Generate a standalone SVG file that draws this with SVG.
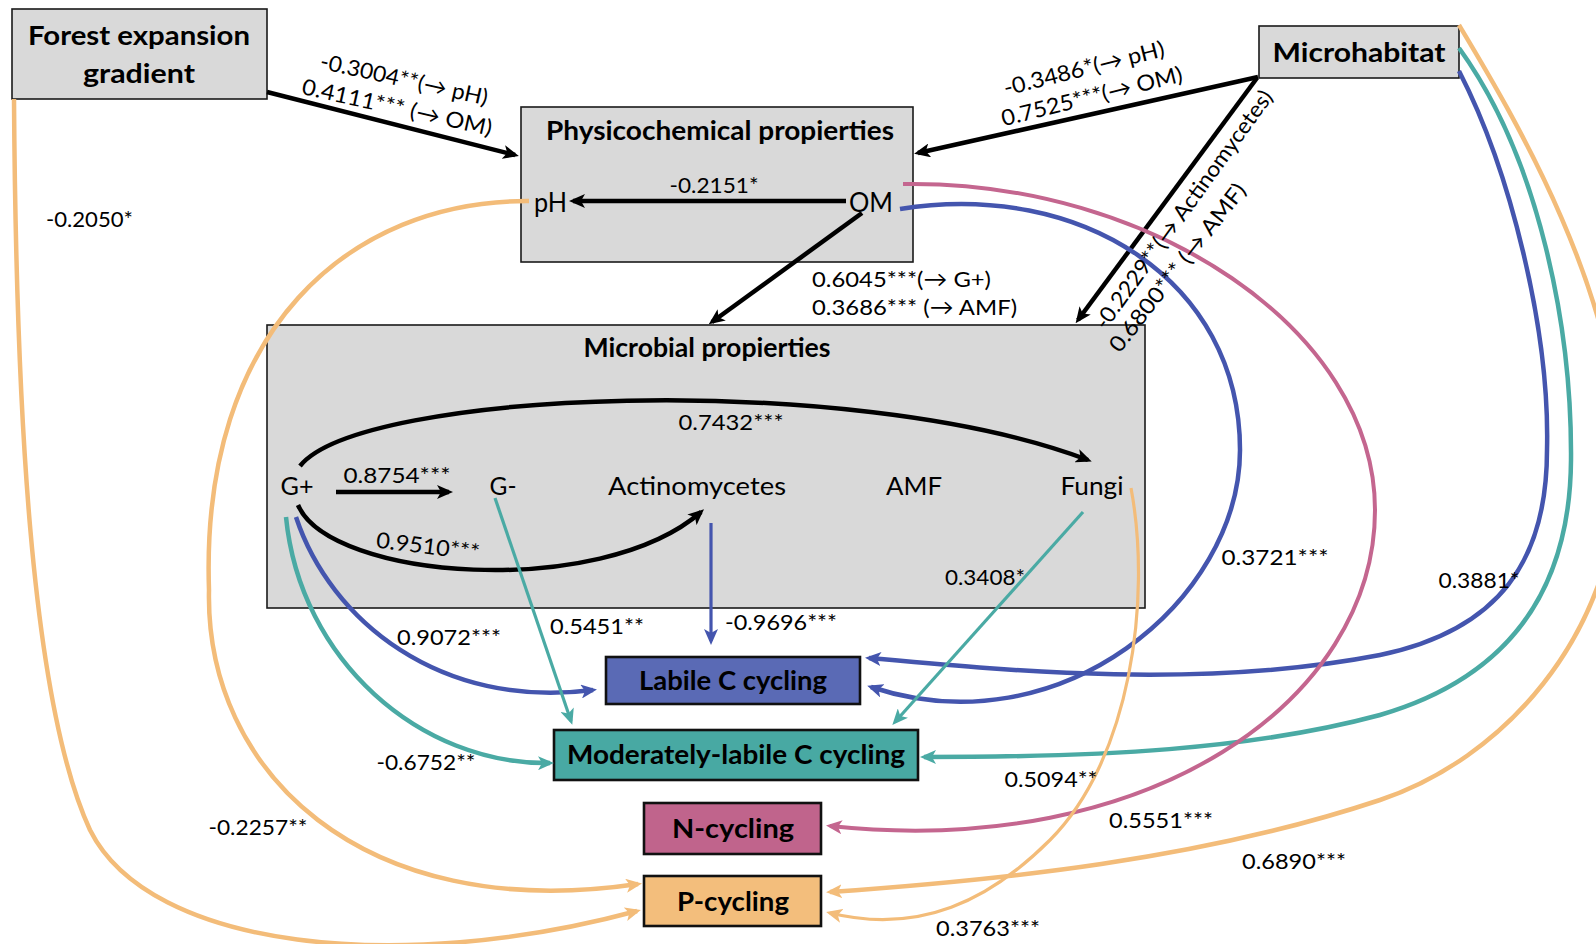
<svg xmlns="http://www.w3.org/2000/svg" width="1596" height="944" viewBox="0 0 1596 944">
<style>
text{font-family:Lato,"Liberation Sans","DejaVu Sans",sans-serif;fill:#000}
.t{font-weight:bold;font-size:27px;text-anchor:middle}
.n{font-size:25px;text-anchor:middle}
.e{font-size:22px}
.m{text-anchor:middle}
.box{fill:#d9d9d9;stroke:#1a1a1a;stroke-width:1.6}
.cb{stroke:#111;stroke-width:2.6}
.k{fill:none;stroke:#000;stroke-width:4.5}
.b{fill:none;stroke:#4455ae;stroke-width:4.5}
.g{fill:none;stroke:#4aaaa4;stroke-width:4.5}
.p{fill:none;stroke:#c4668f;stroke-width:4}
.o{fill:none;stroke:#f3bc79;stroke-width:4.5}
.thin{stroke-width:3.2}
</style>
<defs>
<marker id="ak" markerUnits="userSpaceOnUse" markerWidth="16" markerHeight="14" refX="12" refY="7" orient="auto"><path d="M0,0 L16,7 L0,14 L4,7 z" fill="#000"/></marker>
<marker id="ab" markerUnits="userSpaceOnUse" markerWidth="16" markerHeight="14" refX="12" refY="7" orient="auto"><path d="M0,0 L16,7 L0,14 L4,7 z" fill="#4455ae"/></marker>
<marker id="ag" markerUnits="userSpaceOnUse" markerWidth="16" markerHeight="14" refX="12" refY="7" orient="auto"><path d="M0,0 L16,7 L0,14 L4,7 z" fill="#4aaaa4"/></marker>
<marker id="ap" markerUnits="userSpaceOnUse" markerWidth="16" markerHeight="14" refX="12" refY="7" orient="auto"><path d="M0,0 L16,7 L0,14 L4,7 z" fill="#c4668f"/></marker>
<marker id="ao" markerUnits="userSpaceOnUse" markerWidth="16" markerHeight="14" refX="12" refY="7" orient="auto"><path d="M0,0 L16,7 L0,14 L4,7 z" fill="#f3bc79"/></marker>
</defs>
<rect width="1596" height="944" fill="#fff"/>

<g id="forest">
<rect class="box" x="12" y="9" width="255" height="90"/>
<text class="t" x="139" y="45" textLength="222" lengthAdjust="spacingAndGlyphs">Forest expansion</text>
<text class="t" x="139" y="83" textLength="112" lengthAdjust="spacingAndGlyphs">gradient</text>
</g>
<g id="microhabitat">
<rect class="box" x="1259" y="26" width="200" height="52"/>
<text class="t" x="1359" y="62" textLength="173" lengthAdjust="spacingAndGlyphs">Microhabitat</text>
</g>
<g id="physicochemical">
<rect class="box" x="521" y="107" width="392" height="155"/>
<text class="t" x="720" y="140" textLength="348" lengthAdjust="spacingAndGlyphs">Physicochemical propierties</text>
</g>
<g id="pH"><text x="534" y="212" font-size="27" textLength="33" lengthAdjust="spacingAndGlyphs">pH</text></g>
<g id="OM"><text x="849" y="212" font-size="27" textLength="44" lengthAdjust="spacingAndGlyphs">OM</text></g>
<g id="microbial">
<rect class="box" x="267" y="325" width="878" height="283"/>
<text class="t" x="707" y="357" font-size="25" textLength="247" lengthAdjust="spacingAndGlyphs">Microbial propierties</text>
</g>
<g id="Gpos"><text class="n" x="297" y="495" textLength="33" lengthAdjust="spacingAndGlyphs">G+</text></g>
<g id="Gneg"><text class="n" x="503" y="495" textLength="27" lengthAdjust="spacingAndGlyphs">G-</text></g>
<g id="actinomycetes"><text class="n" x="697" y="495" textLength="178" lengthAdjust="spacingAndGlyphs">Actinomycetes</text></g>
<g id="AMF"><text class="n" x="914" y="495" textLength="56" lengthAdjust="spacingAndGlyphs">AMF</text></g>
<g id="fungi"><text class="n" x="1092" y="495" textLength="63" lengthAdjust="spacingAndGlyphs">Fungi</text></g>
<g id="labile">
<rect class="cb" x="606" y="657" width="254" height="47" fill="#5a6ab5"/>
<text class="t" x="733" y="690" textLength="188" lengthAdjust="spacingAndGlyphs">Labile C cycling</text>
</g>
<g id="moderately">
<rect class="cb" x="554" y="730" width="364" height="50" fill="#48a9a3"/>
<text class="t" x="736" y="764" textLength="338" lengthAdjust="spacingAndGlyphs">Moderately-labile C cycling</text>
</g>
<g id="ncycling">
<rect class="cb" x="644" y="803" width="177" height="51" fill="#c0648c"/>
<text class="t" x="733" y="838" textLength="122" lengthAdjust="spacingAndGlyphs">N-cycling</text>
</g>
<g id="pcycling">
<rect class="cb" x="644" y="876" width="177" height="50" fill="#f3be7c"/>
<text class="t" x="733" y="911" textLength="112" lengthAdjust="spacingAndGlyphs">P-cycling</text>
</g>

<g id="connectors">
<path class="k" d="M267,92 L515,155" marker-end="url(#ak)"/>
<path class="k" d="M1258,77 L918,153" marker-end="url(#ak)"/>
<path class="k" d="M846,201 L573,201" marker-end="url(#ak)"/>
<path class="k" d="M862,213 L712,322" marker-end="url(#ak)"/>
<path class="k" d="M1257,78 L1078,320" marker-end="url(#ak)"/>
<path class="k" d="M336,492 L449,492" marker-end="url(#ak)"/>
<path class="k" d="M300,466 C360,390 850,370 1088,460" marker-end="url(#ak)"/>
<path class="k" d="M298,505 C330,580 600,600 701,512" marker-end="url(#ak)"/>

<path class="b" d="M296,517 C330,620 440,710 593,690" marker-end="url(#ab)"/>
<path class="b thin" d="M711,523 L711,641" marker-end="url(#ab)"/>
<path class="b" d="M900,209 C1080,180 1240,280 1240,450 C1240,600 1060,750 871,687" marker-end="url(#ab)"/>
<path class="b" d="M1459,71 C1510,170 1550,330 1547,450 C1547,560 1500,630 1380,655 C1200,690 1000,670 869,658" marker-end="url(#ab)"/>

<path class="g" d="M286,517 C300,660 420,765 550,763" marker-end="url(#ag)"/>
<path class="g thin" d="M495,498 L571,721" marker-end="url(#ag)"/>
<path class="g thin" d="M1083,512 L895,722" marker-end="url(#ag)"/>
<path class="g" d="M1459,48 C1540,160 1572,330 1571,460 C1570,600 1500,680 1380,715 C1250,750 1100,757 924,757" marker-end="url(#ag)"/>

<path class="p" d="M903,184 C1150,180 1375,330 1375,510 C1375,700 1150,860 830,826" marker-end="url(#ap)"/>

<path class="o" d="M14,99 C16,400 30,700 90,830 C150,950 400,975 637,911" marker-end="url(#ao)"/>
<path class="o" d="M529,201 C350,200 200,330 209,590 C205,770 360,925 638,884" marker-end="url(#ao)"/>
<path class="o thin" d="M1131,488 C1152,600 1130,760 1050,840 C990,900 920,935 830,913" marker-end="url(#ao)"/>
<path class="o" d="M1459,25 C1510,110 1625,300 1620,470 C1615,640 1500,760 1380,800 C1200,860 1000,880 830,892" marker-end="url(#ao)"/>
</g>

<g id="edge-labels" class="e">
<text class="m" transform="translate(404,80) rotate(12.5)" y="7" textLength="171" lengthAdjust="spacingAndGlyphs">-0.3004**(→ pH)</text>
<text class="m" transform="translate(397,108) rotate(12.5)" y="7" textLength="194" lengthAdjust="spacingAndGlyphs">0.4111*** (→ OM)</text>
<text class="m" transform="translate(1084,69) rotate(-14)" y="7" textLength="165" lengthAdjust="spacingAndGlyphs">-0.3486*(→ pH)</text>
<text class="m" transform="translate(1092,97) rotate(-14)" y="7" textLength="186" lengthAdjust="spacingAndGlyphs">0.7525***(→ OM)</text>
<text class="m" transform="translate(1184,210) rotate(-54.3)" y="7" textLength="288" lengthAdjust="spacingAndGlyphs">-0.2229**(→ Actinomycetes)</text>
<text class="m" transform="translate(1178,268) rotate(-52)" y="7" textLength="207" lengthAdjust="spacingAndGlyphs">0.6800*** (→ AMF)</text>
<text class="m" x="714" y="193" textLength="89" lengthAdjust="spacingAndGlyphs">-0.2151*</text>
<text x="812" y="287" textLength="179" lengthAdjust="spacingAndGlyphs">0.6045***(→ G+)</text>
<text x="812" y="315" textLength="205" lengthAdjust="spacingAndGlyphs">0.3686*** (→ AMF)</text>
<text x="46" y="227" textLength="87" lengthAdjust="spacingAndGlyphs">-0.2050*</text>
<text class="m" x="731" y="430" textLength="105" lengthAdjust="spacingAndGlyphs">0.7432***</text>
<text class="m" x="397" y="483" textLength="107" lengthAdjust="spacingAndGlyphs">0.8754***</text>
<text class="m" transform="translate(428,547) rotate(7)" y="7" textLength="104" lengthAdjust="spacingAndGlyphs">0.9510***</text>
<text class="m" x="449" y="645" textLength="104" lengthAdjust="spacingAndGlyphs">0.9072***</text>
<text class="m" x="597" y="634" textLength="94" lengthAdjust="spacingAndGlyphs">0.5451**</text>
<text x="725" y="630" textLength="112" lengthAdjust="spacingAndGlyphs">-0.9696***</text>
<text class="m" x="426" y="770" textLength="99" lengthAdjust="spacingAndGlyphs">-0.6752**</text>
<text class="m" x="258" y="835" textLength="99" lengthAdjust="spacingAndGlyphs">-0.2257**</text>
<text class="m" x="985" y="585" textLength="80" lengthAdjust="spacingAndGlyphs">0.3408*</text>
<text class="m" x="1275" y="565" textLength="107" lengthAdjust="spacingAndGlyphs">0.3721***</text>
<text class="m" x="1479" y="588" textLength="81" lengthAdjust="spacingAndGlyphs">0.3881*</text>
<text class="m" x="1051" y="787" textLength="93" lengthAdjust="spacingAndGlyphs">0.5094**</text>
<text class="m" x="1161" y="828" textLength="104" lengthAdjust="spacingAndGlyphs">0.5551***</text>
<text class="m" x="1294" y="869" textLength="104" lengthAdjust="spacingAndGlyphs">0.6890***</text>
<text class="m" x="988" y="936" textLength="104" lengthAdjust="spacingAndGlyphs">0.3763***</text>
</g>
</svg>
